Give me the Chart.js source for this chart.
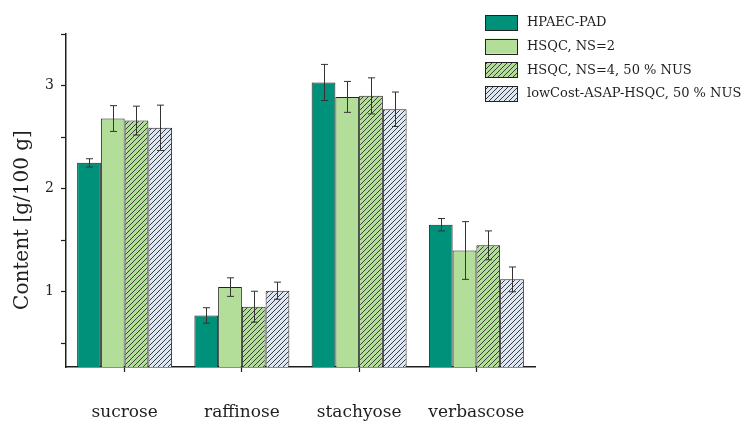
<!DOCTYPE html>
<html>
<head>
<meta charset="utf-8">
<script src="https://cdn.jsdelivr.net/npm/chart.js@4.4.0/dist/chart.umd.min.js"></script>
<style>
  html, body { margin: 0; padding: 0; background: #fff; }
  #wrap { width: 744px; height: 424px; }
</style>
</head>
<body>
<div id="wrap"><canvas id="chart" width="744" height="424"></canvas></div>
<script>
// categories and series (g/100 g)
const sugars = ["sucrose", "raffinose", "stachyose", "verbascose"];
const seriesNames = ["HPAEC-PAD", "HSQC, NS=2", "HSQC, NS=4, 50 % NUS", "lowCost-ASAP-HSQC, 50 % NUS"];
const hpaec = [2.25, 0.77, 3.03, 1.65];
const hpaecErr = [0.04, 0.075, 0.175, 0.06];
const hsqc2 = [2.68, 1.045, 2.89, 1.40];
const hsqc2Err = [0.125, 0.09, 0.15, 0.28];
const hsqc4 = [2.66, 0.855, 2.90, 1.45];
const hsqc4Err = [0.14, 0.15, 0.175, 0.14];
const lowCost = [2.59, 1.01, 2.77, 1.12];
const lowCostErr = [0.22, 0.083, 0.167, 0.12];
const yTickLabels = [1, 2, 3];

const serif = "'DejaVu Serif', serif";
const ink = "#1e1e1e";

function hatch(bg) {
    const s = 5;
    const c = document.createElement("canvas");
    c.width = s; c.height = s;
    const g = c.getContext("2d");
    g.fillStyle = bg;
    g.fillRect(0, 0, s, s);
    g.strokeStyle = "#3c3c3c";
    g.lineWidth = 1;
    g.beginPath();
    g.moveTo(0, s); g.lineTo(s, 0);
    g.moveTo(-1, 1); g.lineTo(1, -1);
    g.moveTo(s - 1, s + 1); g.lineTo(s + 1, s - 1);
    g.stroke();
    return c.getContext("2d").createPattern(c, "repeat");
}

const fills = ["#00917a", "#b3de99", hatch("#b3de99"), hatch("#dde6f3")];
const values = [hpaec, hsqc2, hsqc4, lowCost];
const errors = [hpaecErr, hsqc2Err, hsqc4Err, lowCostErr];

// error bars, legend and y title
const extras = {
    id: "extras",
    afterDatasetsDraw(chart) {
        const ctx = chart.ctx;
        const y = chart.scales.y;
        ctx.save();
        ctx.strokeStyle = "#333";
        ctx.lineWidth = 1;
        chart.data.datasets.forEach((ds, i) => {
            const meta = chart.getDatasetMeta(i);
            meta.data.forEach((bar, j) => {
                const v = values[i][j], e = errors[i][j];
                const x = Math.round(bar.x) + 0.5;
                const top = y.getPixelForValue(v + e);
                const bot = y.getPixelForValue(v - e);
                ctx.beginPath();
                ctx.moveTo(x, top); ctx.lineTo(x, bot);
                ctx.moveTo(x - 3.5, top); ctx.lineTo(x + 3.5, top);
                ctx.moveTo(x - 3.5, bot); ctx.lineTo(x + 3.5, bot);
                ctx.stroke();
            });
        });
        ctx.restore();
    },
    afterDraw(chart) {
        const ctx = chart.ctx;
        ctx.save();
        // legend
        ctx.font = "13px " + serif;
        ctx.textBaseline = "middle";
        seriesNames.forEach((name, i) => {
            const top = 15 + i * 23.7;
            ctx.fillStyle = fills[i];
            ctx.fillRect(485, top, 32, 15);
            ctx.strokeStyle = "#222";
            ctx.lineWidth = 1;
            ctx.strokeRect(485.5, Math.round(top) + 0.5, 32, 15);
            ctx.fillStyle = ink;
            ctx.fillText(name, 527, top + 8);
        });
        // y axis title
        ctx.translate(23, 220);
        ctx.rotate(-Math.PI / 2);
        ctx.font = "20px " + serif;
        ctx.textAlign = "center";
        ctx.fillStyle = ink;
        ctx.fillText("Content [g/100 g]", 0, 0);
        ctx.restore();
    }
};

new Chart(document.getElementById("chart"), {
    type: "bar",
    data: {
        labels: sugars,
        datasets: seriesNames.map((name, i) => ({
            label: name,
            data: values[i],
            backgroundColor: fills[i],
            borderColor: "#222",
            borderWidth: 1,
            categoryPercentage: 0.81,
            barPercentage: 1
        }))
    },
    options: {
        responsive: false,
        animation: false,
        layout: { padding: { top: 34, right: 209, left: 0, bottom: 0 } },
        plugins: { legend: { display: false }, tooltip: { enabled: false } },
        scales: {
            x: {
                grid: { display: true, drawOnChartArea: false, offset: false, tickLength: 5, color: ink, tickWidth: 1.2 },
                border: { display: true, color: ink, width: 1.5 },
                ticks: { color: ink, font: { family: serif, size: 17 }, padding: 30 },
                afterFit(scale) { scale.height = 57; }
            },
            y: {
                min: 0.27,
                max: 3.5,
                grid: { display: true, drawOnChartArea: false, tickLength: 5, color: ink, tickWidth: 1.2 },
                border: { display: true, color: ink, width: 1.5 },
                ticks: {
                    stepSize: 0.5,
                    color: ink,
                    padding: 7,
                    font: { family: serif, size: 14 },
                    callback: v => yTickLabels.includes(v) ? String(v) : ""
                },
                afterBuildTicks(scale) {
                    scale.ticks = scale.ticks.filter(t => Math.abs(t.value * 2 - Math.round(t.value * 2)) < 1e-6);
                },
                afterFit(scale) { scale.width = 66; }
            }
        }
    },
    plugins: [extras]
});
</script>
</body>
</html>
